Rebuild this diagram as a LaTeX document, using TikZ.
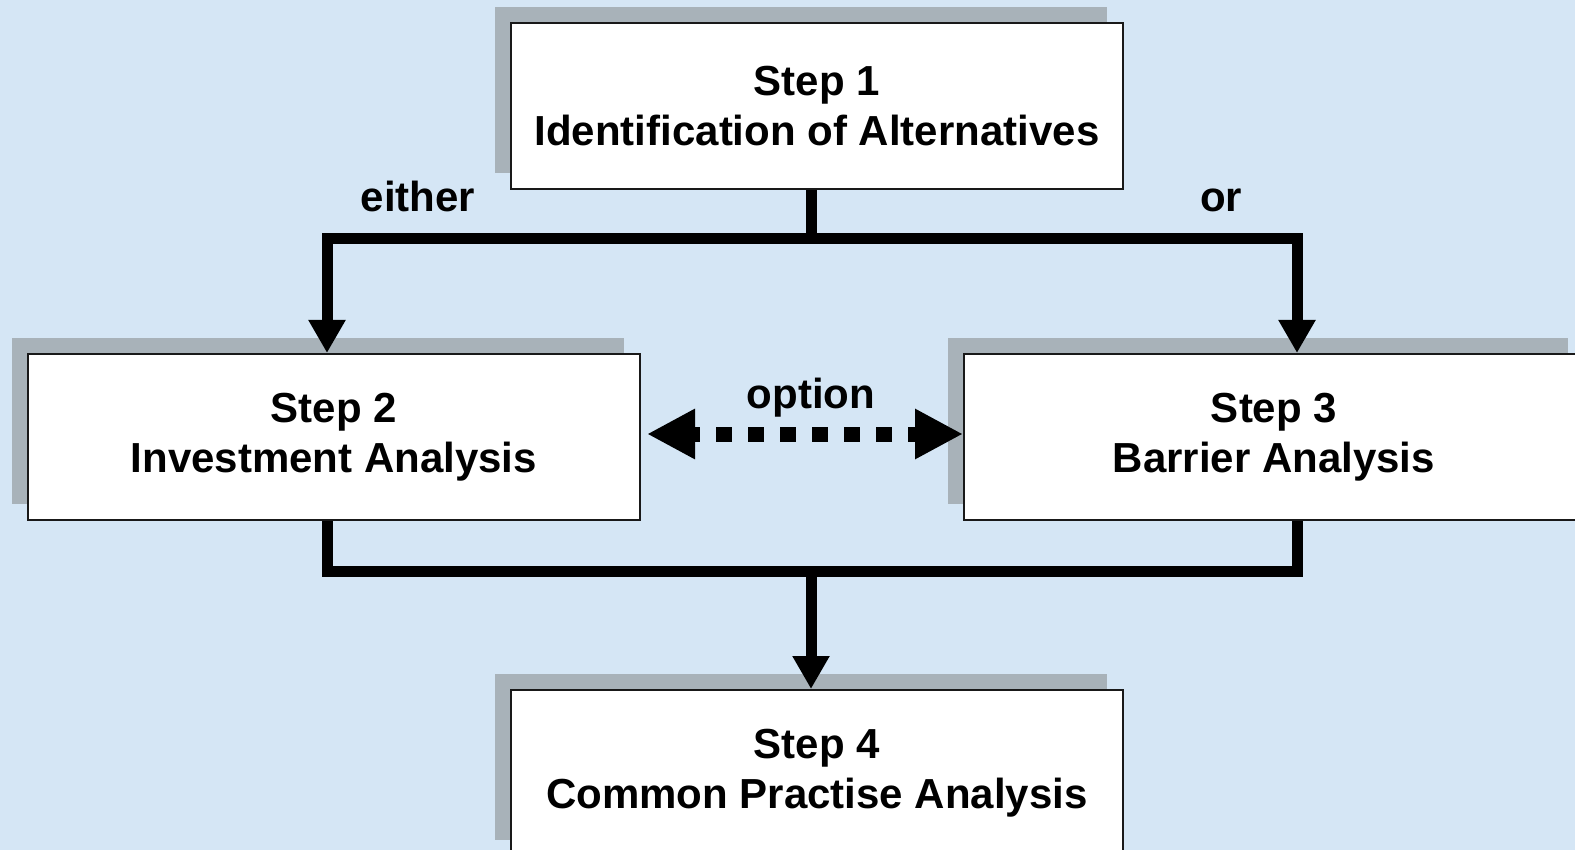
\documentclass[tikz,border=0pt]{standalone}
\usepackage{fontspec}
\setmainfont{Liberation Sans}
\usetikzlibrary{positioning,arrows.meta,shadows}
\definecolor{bgblue}{RGB}{213,230,245}
\definecolor{shadegray}{RGB}{168,178,185}

\begin{document}
\begin{tikzpicture}[font=\fontsize{21}{25}\selectfont\bfseries,
    b/.style={draw=black!90,line width=1pt,fill=white,align=center,inner sep=0pt,
      minimum width=306pt,minimum height=83pt,
      general shadow={fill=shadegray,shadow xshift=-8pt,shadow yshift=8pt}},
    conn/.style={line width=5.5pt},
    tip/.style={-{Triangle[width=17.5pt,length=16.5pt]}},
    dots/.style={line width=7.5pt,dash pattern=on 8pt off 8pt,dash phase=4pt,
      {Triangle[width=23.5pt,length=24pt]}-{Triangle[width=23.5pt,length=24pt]}},
    lbl/.style={inner sep=2pt,anchor=base}]
  \path[use as bounding box,fill=bgblue] (0,0) rectangle (787.5pt,-425pt);
  \node[b] (s1) at (408.5pt,-53pt) {Step 1\\Identification of Alternatives};
  \node[b] (s2) at (167pt,-218.5pt) {Step 2\\Investment Analysis};
  \node[b,minimum width=310pt,right=161pt of s2] (s3) {Step 3\\Barrier Analysis};
  \node[b,below=249.5pt of s1] (s4) {Step 4\\Common Practise Analysis};
  \coordinate (out1) at ([xshift=-3pt]s1.south);
  \coordinate (in2) at ([xshift=-3.5pt]s2.north);
  \coordinate (in3) at ([xshift=11.5pt]s3.north);
  \coordinate (in4) at ([xshift=-3pt]s4.north);
  % split into the two analyses
  \draw[conn] (out1) -- ++(0,-24.5pt) coordinate (fork);
  \draw[conn,tip] (fork) -| (in2);
  \draw[conn,tip] (fork) -| (in3);
  \node[lbl] (either) at (209pt,-106pt) {either};
  \node[lbl] (or) at (610.5pt,-106pt) {or};
  % both lead to step 4
  \draw[conn] ([xshift=-3.5pt]s2.south) -- ++(0,-25pt) coordinate (merge)
    -| ([xshift=11.5pt]s3.south);
  \draw[conn,tip] (in4 |- merge) -- (in4);
  \draw[dots] ([xshift=3pt,yshift=1.5pt]s2.east) -- ([yshift=1.5pt]s3.west)
    node[midway,above=2.5pt,xshift=3pt,inner sep=2pt] (opt) {option};
\end{tikzpicture}
\end{document}
